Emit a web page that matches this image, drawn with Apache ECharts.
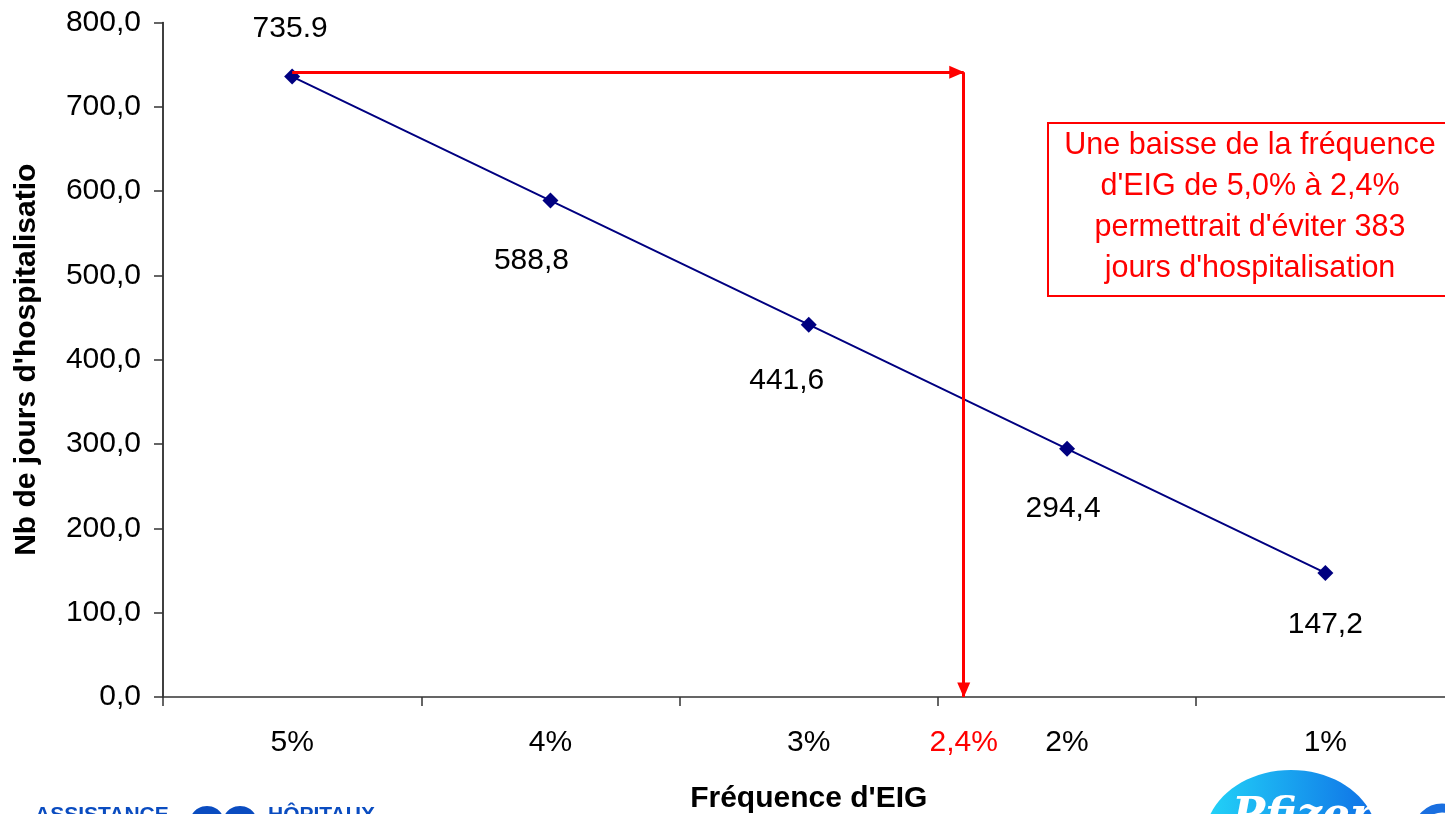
<!DOCTYPE html>
<html>
<head>
<meta charset="utf-8">
<script src="https://cdn.jsdelivr.net/npm/echarts@6/dist/echarts.min.js"></script>
<style>html,body{margin:0;padding:0;background:#fff}#c{width:1445px;height:814px}</style>
</head>
<body>
<div id="c"></div>
<script>
// ---- data ----
var categories = ['5%', '4%', '3%', '2%', '1%'];
var frequencies = [5, 4, 3, 2, 1];
var hospDays = [735.9, 588.8, 441.6, 294.4, 147.2];
var dataLabels = ['735.9', '588,8', '441,6', '294,4', '147,2'];
var targetFreq = 2.4;
var targetLabel = '2,4%';
var arrowLevel = 741;
var yTicks = [0, 100, 200, 300, 400, 500, 600, 700, 800];
var noteText = "Une baisse de la fréquence\nd'EIG de 5,0% à 2,4%\npermettrait d'éviter 383\njours d'hospitalisation";

// ---- label placement (style) ----
var labelPlacement = [
  {position: 'top', distance: 25, offset: [-2, 0]},
  {position: 'bottom', distance: 37, offset: [-19, 0]},
  {position: 'bottom', distance: 33, offset: [-22, 0]},
  {position: 'bottom', distance: 37, offset: [-4, 0]},
  {position: 'bottom', distance: 29, offset: [0, 0]}
];

var FONT = 'Liberation Sans, Arial, sans-serif';
var chart = echarts.init(document.getElementById('c'), null, {renderer: 'canvas'});

var seriesData = hospDays.map(function (v, i) {
  return {
    value: v,
    label: {
      show: true,
      position: labelPlacement[i].position,
      distance: labelPlacement[i].distance,
      offset: labelPlacement[i].offset,
      formatter: dataLabels[i],
      fontSize: 30,
      color: '#000',
      fontFamily: FONT
    }
  };
});

var option = {
  backgroundColor: '#fff',
  animation: false,
  grid: {left: 163, width: 1291.5, top: 22.5, height: 674.5, containLabel: false, outerBoundsMode: 'none'},
  xAxis: [{
    type: 'category',
    data: categories,
    boundaryGap: true,
    name: "Fréquence d'EIG",
    nameLocation: 'middle',
    nameGap: 87,
    nameTextStyle: {fontSize: 30, fontWeight: 'bold', color: '#000', fontFamily: FONT},
    axisLine: {lineStyle: {color: '#333', width: 1.5}},
    axisTick: {show: true, inside: false, length: 9, alignWithLabel: false, lineStyle: {color: '#333', width: 1.5}},
    axisLabel: {fontSize: 30, color: '#000', margin: 31, fontFamily: FONT},
    splitLine: {show: false}
  }, {
    type: 'value',
    min: 0.5,
    max: 5.5,
    inverse: true,
    show: false,
    splitLine: {show: false}
  }],
  yAxis: {
    type: 'value',
    min: yTicks[0],
    max: yTicks[yTicks.length - 1],
    interval: 100,
    name: "Nb de jours d'hospitalisatio",
    nameLocation: 'middle',
    nameGap: 121,
    nameTextStyle: {fontSize: 30, fontWeight: 'bold', color: '#000', fontFamily: FONT},
    axisLine: {show: true, lineStyle: {color: '#000', width: 1.5}},
    axisTick: {show: true, inside: false, length: 9, lineStyle: {color: '#333', width: 1.5}},
    axisLabel: {
      fontSize: 30, color: '#000', margin: 22, fontFamily: FONT,
      formatter: function (v) { return v.toFixed(1).replace('.', ','); }
    },
    splitLine: {show: false}
  },
  series: [{
    type: 'scatter',
    xAxisIndex: 1,
    z: 1,
    data: [[targetFreq, 0]],
    symbolSize: 0,
    silent: true,
    itemStyle: {opacity: 1, color: '#ff0000'},
    label: {
      show: true,
      position: 'bottom',
      distance: 31,
      formatter: targetLabel,
      color: '#ff0000',
      fontSize: 30,
      fontFamily: FONT
    },
    markLine: {
      silent: true,
      animation: false,
      symbol: ['none', 'triangle'],
      symbolSize: [13, 15],
      symbolOffset: [0, [0, 7]],
      label: {show: false},
      lineStyle: {color: '#ff0000', width: 3, type: 'solid', opacity: 1},
      emphasis: {disabled: true},
      data: [
        [{coord: [frequencies[0], arrowLevel]}, {coord: [targetFreq, arrowLevel]}],
        [{coord: [targetFreq, arrowLevel]}, {coord: [targetFreq, 0]}]
      ]
    }
  }, {
    type: 'line',
    xAxisIndex: 0,
    z: 3,
    data: seriesData,
    symbol: 'diamond',
    symbolSize: 16,
    lineStyle: {color: '#000080', width: 2},
    itemStyle: {color: '#000080'}
  }],
  graphic: [{
    type: 'group',
    children: [{
      type: 'rect',
      shape: {x: 1048, y: 123, width: 403, height: 173},
      style: {fill: '#fff', stroke: '#ff0000', lineWidth: 2}
    }, {
      type: 'text',
      x: 1250, y: 207,
      style: {
        text: noteText, fill: '#ff0000', fontSize: 30.5, lineHeight: 41,
        align: 'center', verticalAlign: 'middle', fontFamily: FONT
      }
    }]
  }, {
    type: 'ellipse',
    shape: {cx: 1291, cy: 838, rx: 86, ry: 68},
    style: {
      fill: new echarts.graphic.LinearGradient(0, 0, 1, 0, [
        {offset: 0, color: '#22d4f8'}, {offset: 1, color: '#0f6fe6'}
      ])
    }
  }, {
    type: 'text',
    x: 1232, y: 796,
    style: {text: 'Pfizer', fill: '#fff', fontSize: 44, fontStyle: 'italic', fontWeight: 'bold', fontFamily: 'DejaVu Serif, serif'}
  }, {
    type: 'circle',
    shape: {cx: 1442, cy: 832, r: 24},
    style: {fill: 'none', stroke: '#1a6fe0', lineWidth: 9}
  }, {
    type: 'text',
    x: 35, y: 805,
    style: {text: 'ASSISTANCE', fill: '#0a4cc0', fontSize: 21, fontWeight: 'bold', fontFamily: FONT}
  }, {
    type: 'ellipse',
    shape: {cx: 207, cy: 822, rx: 17, ry: 16},
    style: {fill: '#0a4cc0'}
  }, {
    type: 'ellipse',
    shape: {cx: 240, cy: 822, rx: 17, ry: 16},
    style: {fill: '#0a4cc0'}
  }, {
    type: 'text',
    x: 268, y: 805,
    style: {text: 'HÔPITAUX', fill: '#0a4cc0', fontSize: 21, fontWeight: 'bold', fontFamily: FONT}
  }]
};
chart.setOption(option);
</script>
</body>
</html>
